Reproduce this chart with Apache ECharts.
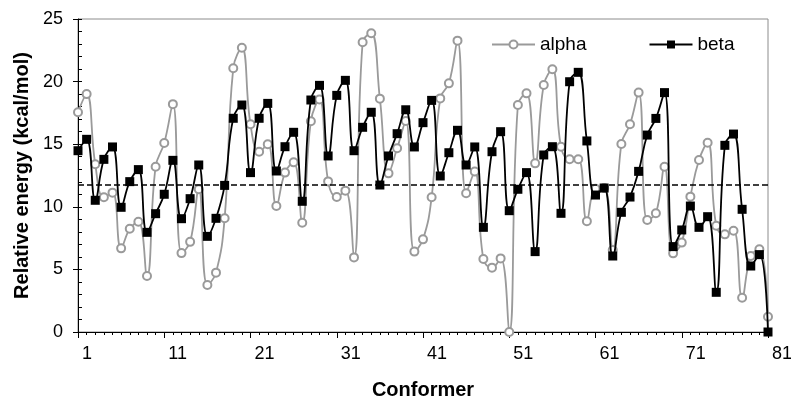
<!DOCTYPE html>
<html>
<head>
<meta charset="utf-8">
<script src="https://cdn.jsdelivr.net/npm/echarts@6/dist/echarts.min.js"></script>
<style>
html,body{margin:0;padding:0;background:#fff;}
#chart{width:791px;height:403px;}
</style>
</head>
<body>
<div id="chart"></div>
<script>
const conformers = ['1','2','3','4','5','6','7','8','9','10','11','12','13','14','15','16','17','18','19','20',
'21','22','23','24','25','26','27','28','29','30','31','32','33','34','35','36','37','38','39','40',
'41','42','43','44','45','46','47','48','49','50','51','52','53','54','55','56','57','58','59','60',
'61','62','63','64','65','66','67','68','69','70','71','72','73','74','75','76','77','78','79','80','81'];

const alpha = [17.55,19.0,13.4,10.76,11.13,6.68,8.25,8.81,4.47,13.2,
15.1,18.2,6.3,7.2,11.4,3.75,4.74,9.08,21.06,22.7,
16.59,14.4,15.0,10.06,12.73,13.55,8.73,16.83,18.58,12.03,
10.78,11.29,5.96,23.14,23.86,18.64,12.67,14.67,16.85,6.42,
7.4,10.76,18.66,19.86,23.27,11.08,12.81,5.83,5.14,5.88,
0.0,18.13,19.06,13.47,19.73,20.98,14.8,13.8,13.8,8.85,
11.45,11.5,6.55,15.02,16.59,19.12,8.95,9.48,13.2,6.28,
7.14,10.81,13.74,15.12,8.49,7.8,8.09,2.74,6.07,6.6,1.22];

const beta = [14.48,15.39,10.52,13.79,14.78,9.96,12.01,12.97,7.96,9.45,
11.0,13.71,9.05,10.65,13.34,7.64,9.08,11.71,17.07,18.13,
12.73,17.07,18.26,12.86,14.8,15.95,10.44,18.53,19.7,14.06,
18.9,20.1,14.48,16.35,17.55,11.74,14.06,15.84,17.75,14.78,
16.72,18.5,12.46,14.32,16.11,13.34,14.78,8.36,14.4,16.0,
9.69,11.4,12.73,6.42,14.14,14.8,9.48,19.99,20.74,15.26,
10.94,11.5,6.07,9.56,10.78,12.83,15.73,17.06,19.12,6.82,
8.15,10.06,8.36,9.21,3.17,14.91,15.81,9.8,5.27,6.18,0.0];

const xTickLabels = ['1','11','21','31','41','51','61','71','81'];
const yTicks = [0,5,10,15,20,25];
const referenceLevel = 11.8;

const seriesNames = ['alpha','beta'];

const isMajor = (idx, val) => xTickLabels.indexOf(String(val)) >= 0;

const chart = echarts.init(document.getElementById('chart'), null, {renderer:'canvas'});
const font = 'Liberation Sans, Arial, sans-serif';

chart.setOption({
  animation:false,
  backgroundColor:'#ffffff',
  grid:{left:78,right:23,top:19,bottom:71,containLabel:false,outerBoundsMode:'none',
        show:true,borderColor:'#8c8c8c',borderWidth:1,backgroundColor:'transparent'},
  legend:{
    data:seriesNames,
    left:486, top:30,
    itemWidth:43, itemHeight:10, itemGap:62,
    textStyle:{fontFamily:font,fontSize:19,color:'#000'},
    selectedMode:false
  },
  xAxis:[{
    type:'category', data:conformers, boundaryGap:false, position:'bottom',
    name:'Conformer', nameLocation:'middle', nameGap:48,
    nameTextStyle:{fontFamily:font,fontSize:20,fontWeight:'bold',color:'#000'},
    axisLine:{lineStyle:{color:'#000',width:1}},
    axisTick:{show:true,inside:false,length:6,interval:isMajor,lineStyle:{color:'#000'}},
    axisLabel:{interval:isMajor,fontFamily:font,fontSize:18,color:'#000',margin:13,align:'left',padding:[0,0,0,4],hideOverlap:false},
    splitLine:{show:false}
  },{
    type:'category', data:conformers, boundaryGap:false, position:'bottom',
    axisLine:{show:false},
    axisTick:{show:true,inside:false,length:3,interval:0,lineStyle:{color:'#000'}},
    axisLabel:{show:false}, splitLine:{show:false}
  }],
  yAxis:[{
    type:'value', min:yTicks[0], max:yTicks[yTicks.length-1], interval:5,
    name:'Relative energy (kcal/mol)', nameLocation:'middle', nameGap:45, nameRotate:90,
    nameTextStyle:{fontFamily:font,fontSize:20,fontWeight:'bold',color:'#000'},
    axisLine:{show:true,lineStyle:{color:'#000',width:1}},
    axisTick:{show:true,inside:false,length:5,lineStyle:{color:'#000'}},
    axisLabel:{fontFamily:font,fontSize:18,color:'#000',margin:15},
    splitLine:{show:false}
  },{
    type:'value', min:yTicks[0], max:yTicks[yTicks.length-1], interval:1, position:'left',
    axisLine:{show:false},
    axisTick:{show:true,inside:true,length:4,lineStyle:{color:'#000'}},
    axisLabel:{show:false}, splitLine:{show:false}
  }],
  series:[{
    name:seriesNames[0], type:'line', data:alpha, smooth:0.45,
    symbol:'emptyCircle', symbolSize:8, showAllSymbol:true,
    lineStyle:{color:'#9a9a9a',width:1.8},
    itemStyle:{color:'#9a9a9a',borderColor:'#9a9a9a',borderWidth:1.6},
    z:2
  },{
    name:seriesNames[1], type:'line', data:beta, smooth:0.45,
    symbol:'rect', symbolSize:9, showAllSymbol:true,
    lineStyle:{color:'#000',width:1.8},
    itemStyle:{color:'#000'},
    z:3,
    markLine:{
      silent:true, symbol:'none', label:{show:false},
      lineStyle:{color:'#000',type:[6,3],width:1.5},
      data:[{yAxis:referenceLevel}]
    }
  }]
});
</script>
</body>
</html>
